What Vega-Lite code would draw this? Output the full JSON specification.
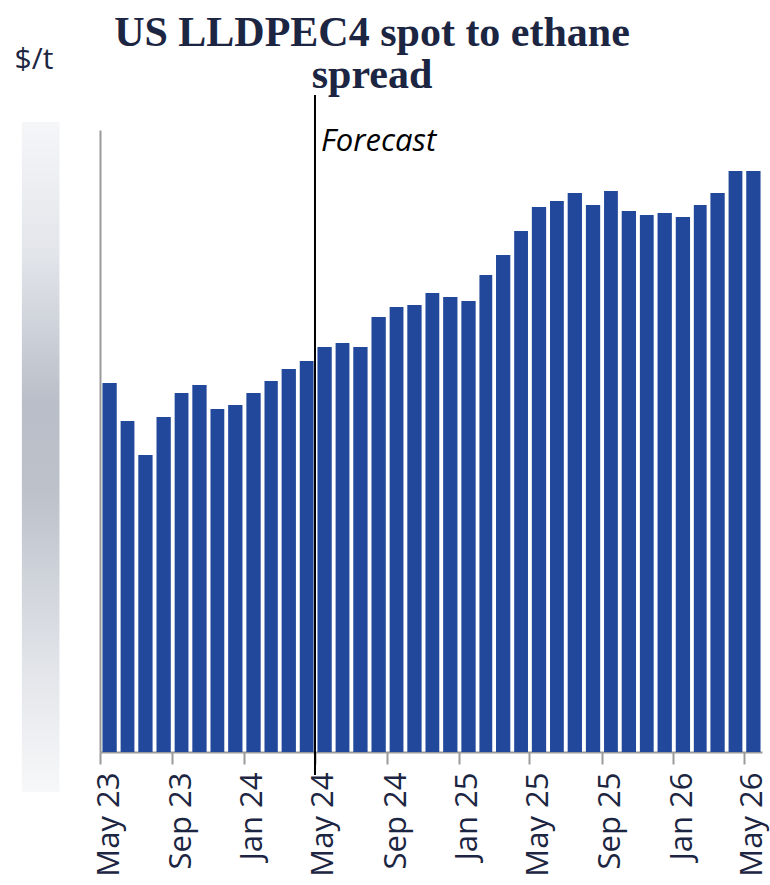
{
  "$schema": "https://vega.github.io/schema/vega-lite/v6.json",
  "width": 662,
  "height": 622,
  "autosize": {"type": "none"},
  "padding": {"left": 100, "top": 130, "right": 8, "bottom": 133},
  "background": "white",
  "title": {
    "text": ["US LLDPEC4 spot to ethane", "spread"],
    "font": "Liberation Serif",
    "fontSize": 42,
    "fontWeight": "bold",
    "color": "#1c2541",
    "anchor": "middle",
    "frame": "group",
    "dx": -59,
    "dy": 90,
    "lineHeight": 42,
    "offset": 37
  },
  "config": {"view": {"stroke": null}},
  "data": {
    "values": [
      {"month": "2023/05/01", "value": 369},
      {"month": "2023/06/01", "value": 331},
      {"month": "2023/07/01", "value": 297},
      {"month": "2023/08/01", "value": 335},
      {"month": "2023/09/01", "value": 359},
      {"month": "2023/10/01", "value": 367},
      {"month": "2023/11/01", "value": 343},
      {"month": "2023/12/01", "value": 347},
      {"month": "2024/01/01", "value": 359},
      {"month": "2024/02/01", "value": 371},
      {"month": "2024/03/01", "value": 383},
      {"month": "2024/04/01", "value": 391},
      {"month": "2024/05/01", "value": 405},
      {"month": "2024/06/01", "value": 409},
      {"month": "2024/07/01", "value": 405},
      {"month": "2024/08/01", "value": 435},
      {"month": "2024/09/01", "value": 445},
      {"month": "2024/10/01", "value": 447},
      {"month": "2024/11/01", "value": 459},
      {"month": "2024/12/01", "value": 455},
      {"month": "2025/01/01", "value": 451},
      {"month": "2025/02/01", "value": 477},
      {"month": "2025/03/01", "value": 497},
      {"month": "2025/04/01", "value": 521},
      {"month": "2025/05/01", "value": 545},
      {"month": "2025/06/01", "value": 551},
      {"month": "2025/07/01", "value": 559},
      {"month": "2025/08/01", "value": 547},
      {"month": "2025/09/01", "value": 561},
      {"month": "2025/10/01", "value": 541},
      {"month": "2025/11/01", "value": 537},
      {"month": "2025/12/01", "value": 539},
      {"month": "2026/01/01", "value": 535},
      {"month": "2026/02/01", "value": 547},
      {"month": "2026/03/01", "value": 559},
      {"month": "2026/04/01", "value": 581},
      {"month": "2026/05/01", "value": 581}
    ]
  },
  "layer": [
    {
      "data": {"values": [{}]},
      "mark": {
        "type": "rect",
        "fill": {
          "gradient": "linear",
          "x1": 0, "y1": 0, "x2": 0, "y2": 1,
          "stops": [
            {"offset": 0, "color": "#f5f6f8"},
            {"offset": 0.2, "color": "#e2e5ea"},
            {"offset": 0.42, "color": "#b9bec8"},
            {"offset": 0.55, "color": "#bcc1ca"},
            {"offset": 0.8, "color": "#e0e3e8"},
            {"offset": 1, "color": "#f7f8f9"}
          ]
        }
      },
      "encoding": {
        "x": {"datum": {"year": 2022, "month": 12, "date": 19}, "type": "temporal"},
        "x2": {"datum": {"year": 2023, "month": 2, "date": 21}},
        "y": {"datum": 630, "type": "quantitative"},
        "y2": {"datum": -40}
      }
    },
    {
      "mark": {"type": "bar", "color": "#21489a", "width": {"band": 0.84}},
      "encoding": {
        "x": {
          "field": "month",
          "type": "temporal",
          "timeUnit": "yearmonth",
          "scale": {"domain": [{"year": 2023, "month": 5, "date": 1}, {"year": 2026, "month": 6, "date": 1}]},
          "axis": {
            "title": null,
            "values": [
              {"year": 2023, "month": 5, "date": 1},
              {"year": 2023, "month": 9, "date": 1},
              {"year": 2024, "month": 1, "date": 1},
              {"year": 2024, "month": 5, "date": 1},
              {"year": 2024, "month": 9, "date": 1},
              {"year": 2025, "month": 1, "date": 1},
              {"year": 2025, "month": 5, "date": 1},
              {"year": 2025, "month": 9, "date": 1},
              {"year": 2026, "month": 1, "date": 1},
              {"year": 2026, "month": 5, "date": 1}
            ],
            "format": "%b %y",
            "labelAngle": 270,
            "labelFont": "Open Sans",
            "labelFontSize": 31,
            "labelColor": "#1c2541",
            "labelPadding": 8,
            "labelOffset": 9,
            "labelFlush": false,
            "labelOverlap": false,
            "tickSize": 12,
            "tickColor": "#9a9a9a",
            "tickWidth": 2,
            "domainColor": "#9a9a9a",
            "domainWidth": 2,
            "grid": false
          }
        },
        "y": {
          "field": "value",
          "type": "quantitative",
          "scale": {"domain": [0, 622], "nice": false},
          "axis": {
            "title": "$/t",
            "titleAngle": 0,
            "titleX": -86,
            "titleY": -62,
            "titleAlign": "left",
            "titleBaseline": "alphabetic",
            "titleFont": "Open Sans",
            "titleFontSize": 30,
            "titleFontWeight": "normal",
            "titleColor": "#1c2541",
            "labels": false,
            "ticks": false,
            "grid": false,
            "domainColor": "#9a9a9a",
            "domainWidth": 2
          }
        }
      }
    },
    {
      "data": {"values": [{}]},
      "mark": {"type": "rule", "color": "black", "strokeWidth": 2},
      "encoding": {
        "x": {"datum": {"year": 2024, "month": 5, "date": 1}, "type": "temporal"},
        "y": {"datum": 657, "type": "quantitative"},
        "y2": {"datum": -23}
      }
    },
    {
      "data": {"values": [{}]},
      "mark": {
        "type": "text",
        "text": "Forecast",
        "font": "Open Sans",
        "fontSize": 31,
        "fontStyle": "italic",
        "color": "black",
        "align": "left",
        "baseline": "alphabetic",
        "dx": 6
      },
      "encoding": {
        "x": {"datum": {"year": 2024, "month": 5, "date": 1}, "type": "temporal"},
        "y": {"datum": 601, "type": "quantitative"}
      }
    }
  ]
}
